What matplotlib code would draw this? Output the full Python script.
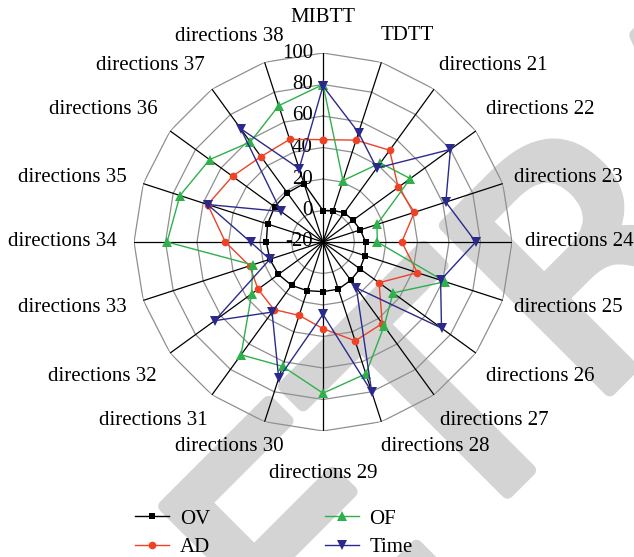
import numpy as np
import matplotlib
matplotlib.use("Agg")
import matplotlib.pyplot as plt
import matplotlib.patheffects as pe

plt.rcParams['font.family'] = ['Liberation Serif', 'DejaVu Serif']

categories = ["MIBTT", "TDTT"] + [f"directions {i}" for i in range(21, 39)]
ov = [0, 1, 3, 3.5, 5, 7, 8, 9, 10, 11.5, 11.5, 12.5, 14, 15, 15.5, 16, 17, 18, 18.5, 19]
ad = [45, 48, 52, 39, 41, 30, 43, 24, 44, 46, 35, 29, 33, 31, 29, 42, 57, 51, 47, 48.5]
of = [80, 21, 42, 48.5, 16, 14.5, 61.5, 35, 46, 68, 76, 63, 68.5, 36, 27, 79, 75.5, 69, 58.5, 71]
tm = [79, 53, 38, 80, 62, 77, 58.5, 73, 16, 80, 26, 71, 35, 65, 15.5, 26, 57, 13, 69, 29]
radial_ticks = [-20, 0, 20, 40, 60, 80, 100]

# label offsets (pixels) from the outer vertex of each axis
label_offsets = [(0, 35), (26, 27), (59, 24), (64, 21), (66, 6), (67, 0), (66, -7),
                 (64, -23), (60, -26), (54, -25), (0, -42), (-35, -25), (-59, -26),
                 (-68, -23), (-71, -7), (-71.5, 0), (-71, 6), (-67, 21), (-62, 24), (-35, 26)]

W, H = 634, 557
fig = plt.figure(figsize=(W / 100, H / 100), dpi=100)

# watermark (behind everything)
fig.text(150 / W, 1 - 850 / H, "RETRACTED", fontsize=230, color='#d4d4d4', rotation=45,
         ha='left', va='baseline', family='DejaVu Sans', rotation_mode='anchor', zorder=-1,
         path_effects=[pe.withStroke(linewidth=9, foreground='#d4d4d4')])

cx, cy, R = 323, 242, 189
ax = fig.add_axes([(cx - R) / W, (H - cy - R) / H, 2 * R / W, 2 * R / H], projection='polar')
ax.set_facecolor('none')
ax.set_theta_zero_location('N')
ax.set_theta_direction(-1)
ax.set_ylim(-20, 100)
ax.grid(False)
ax.spines['polar'].set_visible(False)
ax.set_xticks([])
ax.set_yticks([])

n = len(categories)
theta = np.arange(n) * 2 * np.pi / n
theta_c = np.append(theta, theta[0])

for v in radial_ticks[1:]:
    ax.plot(theta_c, [v] * (n + 1), color='#8f8f8f', lw=0.9, zorder=1)
for t in theta:
    ax.plot([t, t], [-20, 100], color='black', lw=0.9, zorder=2)

for v in radial_ticks:
    ax.annotate(str(v), xy=(0, v), xytext=(-10, 0), textcoords='offset pixels',
                ha='right', va='center', fontsize=15, zorder=3)

for t, lab, off in zip(theta, categories, label_offsets):
    ax.annotate(lab, xy=(t, 100), xytext=off, textcoords='offset pixels',
                ha='center', va='center', fontsize=15, annotation_clip=False)

series = [
    ("OV", ov, 'black', 's', 5.0),
    ("AD", ad, '#ee4226', 'o', 5.5),
    ("OF", of, '#2eb04b', '^', 6.5),
    ("Time", tm, '#2b2a8c', 'v', 6.5),
]
handles = []
for name, vals, col, mk, ms in series:
    vv = np.append(vals, vals[0])
    h, = ax.plot(theta_c, vv, color=col, lw=1.0, marker=mk, markersize=ms,
                 markeredgewidth=0, label=name, zorder=5, clip_on=False)
    handles.append(h)

fig.legend(handles=handles, ncol=2, loc='upper left', bbox_to_anchor=(135 / W, 1 - 509 / H),
           frameon=False, fontsize=15, handlelength=1.65, handletextpad=0.5,
           columnspacing=5.5, labelspacing=0.42, borderpad=0, borderaxespad=0)

fig.savefig("out.png", dpi=100)
